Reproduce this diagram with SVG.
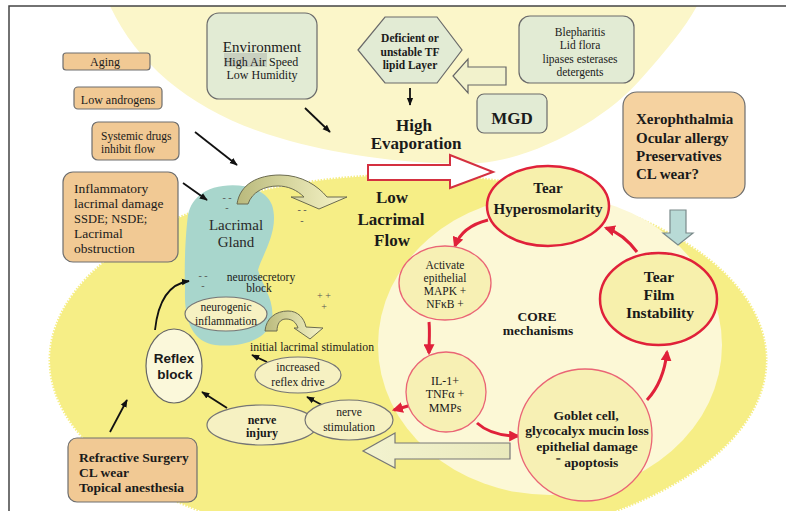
<svg xmlns="http://www.w3.org/2000/svg" width="786" height="511" viewBox="0 0 786 511">
<style>
text{font-family:"Liberation Serif","Times New Roman",serif;fill:#1a1a1a}
.c{text-anchor:middle}
.b{font-weight:bold}
.sans{font-family:"Liberation Sans",Arial,sans-serif}
.tan{fill:#f1c994;stroke:#6e6e6e;stroke-width:1.2}
.grn{fill:#e2ebd4;stroke:#6a6a6a;stroke-width:1.2}
.blk{stroke:#111;stroke-width:1.8;fill:none;marker-end:url(#ab)}
.red{stroke:#e0213a;stroke-width:3;fill:none;marker-end:url(#ar)}
.rr{fill:#f7f0ac;stroke:#e0213a;stroke-width:2.5}
.rl{fill:#f7f0b4;stroke:#ea6575;stroke-width:1.3}
.ye{fill:#f6f1c2;stroke:#757575;stroke-width:1.2}
.mk{font-size:10px;fill:#555}
</style>
<defs>
<marker id="ab" viewBox="0 0 10 10" refX="9" refY="5" markerWidth="8" markerHeight="8" markerUnits="userSpaceOnUse" orient="auto"><path d="M0,1 L10,5 L0,9 z" fill="#111"/></marker>
<marker id="ar" viewBox="0 0 10 10" refX="8" refY="5" markerWidth="11" markerHeight="11" markerUnits="userSpaceOnUse" orient="auto"><path d="M0,0 L10,5 L0,10 z" fill="#e0213a"/></marker>
<linearGradient id="olive" x1="0" y1="0" x2="1" y2="0"><stop offset="0" stop-color="#b9b97c"/><stop offset="0.5" stop-color="#d9d8a2"/><stop offset="1" stop-color="#f6f4c8"/></linearGradient>
<linearGradient id="pale" x1="0" y1="0" x2="1" y2="0"><stop offset="0" stop-color="#f3f3d0"/><stop offset="1" stop-color="#e9e9bc"/></linearGradient>
</defs>

<g id="background">
<rect x="0" y="0" width="786" height="511" fill="#ffffff"/>
<path d="M110,6 C140,70 200,115 280,138 C340,156 420,166 480,163 C540,158 610,115 640,80 C665,52 685,28 697,6 Z" fill="#fbf6c9"/>
<ellipse cx="408" cy="360" rx="358" ry="185" fill="#f6ee86" stroke="#f6ee86" stroke-width="3" stroke-dasharray="1.5 1.5"/>
<ellipse cx="550" cy="345" rx="172" ry="150" fill="#fcf8d6"/>
<path d="M9,511 L9,6 L786,6" fill="none" stroke="#444" stroke-width="1.5"/>
</g>

<g id="lacrimal-gland">
<path d="M200,195 C215,181 262,180 272,205 C280,230 262,255 258,270 C262,285 275,300 272,320 C268,340 240,348 215,345 C192,342 184,320 185,290 C184,260 186,230 188,215 C190,205 195,199 200,195 Z" fill="#a8d6cc"/>
<text class="c" x="236" y="230" font-size="15" style="fill:#2a2a2a">Lacrimal</text>
<text class="c" x="236" y="247" font-size="15" style="fill:#2a2a2a">Gland</text>
<text class="mk c" x="227" y="201">- -</text><text class="mk c" x="227" y="211">-</text>
<text class="mk c" x="302" y="213">- -</text><text class="mk c" x="302" y="224">-</text>
<text class="mk c" x="203" y="279">- -</text><text class="mk c" x="203" y="289">-</text>
<text class="mk c" x="324" y="299">+ +</text><text class="mk c" x="324" y="310">+</text>
<text class="c" x="261" y="281" font-size="11.5">neurosecretory</text>
<text class="c" x="259" y="292" font-size="11.5">block</text>
</g>

<g id="connectors">
<path d="M237,204 C240,184 258,175 280,175 C302,175 318,186 327,197 L347,197 L319,209 L291,197 L304,197 C297,190 288,186 278,186 C264,186 252,192 248,204 Z" fill="url(#olive)" stroke="#6b6b50" stroke-width="1"/>
<path d="M265,331 C266,318 276,311 288,311 C298,311 304,318 306,327 L323,328 L310,339 L294,328 L298,328 C296,322 292,319 286,319 C280,319 277,324 277,331 Z" fill="url(#olive)" stroke="#6b6b50" stroke-width="1"/>
<polygon points="506,67 468,67 468,59 453,76 468,93 468,85 506,85" fill="#f2f2cc" stroke="#666" stroke-width="1.2"/>
<polygon points="368,165 450,165 450,155 493,172 450,188 450,180 368,180" fill="#ffffff" stroke="#d43040" stroke-width="2"/>
<polygon points="510,443 395,443 395,433 363,451 395,468 395,459 510,459" fill="url(#pale)" stroke="#777" stroke-width="1.2"/>
<polygon points="670,210 686,210 686,233 693,233 678,245 663,233 670,233" fill="#b8dad6" stroke="#7a8a8a" stroke-width="1.2"/>
<line class="blk" x1="305" y1="108" x2="330" y2="132"/>
<line class="blk" x1="195" y1="132" x2="237" y2="165"/>
<line class="blk" x1="183" y1="183" x2="207" y2="200"/>
<line class="blk" x1="410" y1="88" x2="410" y2="105"/>
<path class="blk" d="M155,330 C158,302 168,284 189,281"/>
<line class="blk" x1="110" y1="432" x2="127" y2="400"/>
<line class="blk" x1="227" y1="408" x2="202" y2="392"/>
<line class="blk" x1="322" y1="405" x2="307" y2="397"/>
<line class="blk" x1="267" y1="362" x2="252" y2="355"/>
<path class="red" d="M488,220 C472,224 460,232 455,246"/>
<path class="red" d="M429,322 C430,332 429,342 429,353"/>
<path class="red" d="M415,404 L394,410"/>
<path class="red" d="M477,423 C487,432 500,436 518,436"/>
<path class="red" d="M647,400 C660,386 665,370 667,352"/>
<path class="red" d="M637,252 C628,240 618,232 606,228"/>
</g>

<g id="aging"><rect class="tan" x="63" y="53" width="87" height="17" rx="3"/><text class="c" x="105" y="66" font-size="12">Aging</text></g>
<g id="low-androgens"><rect class="tan" x="74" y="87" width="88" height="22" rx="4"/><text class="c" x="118" y="104" font-size="12">Low androgens</text></g>
<g id="systemic-drugs"><rect class="tan" x="92" y="122" width="87" height="38" rx="6"/>
<text x="101" y="140" font-size="11.5">Systemic drugs</text><text x="101" y="153" font-size="11.5">inhibit flow</text></g>
<g id="inflammatory"><rect class="tan" x="63" y="172" width="115" height="90" rx="10"/>
<text x="74" y="193" font-size="13.5">Inflammatory</text>
<text x="74" y="208" font-size="13.5">lacrimal damage</text>
<text x="74" y="223" font-size="12.5">SSDE; NSDE;</text>
<text x="74" y="238" font-size="13.5">Lacrimal</text>
<text x="74" y="253" font-size="13.5">obstruction</text></g>

<g id="environment"><rect class="grn" x="207" y="13" width="110" height="86" rx="12"/>
<rect x="224" y="53" width="43" height="14" fill="#c9d0c0"/>
<text class="c" x="262" y="52" font-size="15">Environment</text>
<text class="c" x="261" y="66" font-size="12">High Air Speed</text>
<text class="c" x="262" y="79" font-size="12">Low Humidity</text></g>

<g id="lipid-layer"><polygon class="grn" points="358,50 385,17 437,17 462,50 437,83 385,83"/>
<text class="c b" x="410" y="42" font-size="11.5">Deficient or</text>
<text class="c b" x="410" y="56" font-size="11.5">unstable TF</text>
<text class="c b" x="410" y="69" font-size="11.5">lipid Layer</text></g>

<g id="blepharitis"><rect class="grn" x="519" y="16" width="115" height="67" rx="11"/>
<text class="c" x="580" y="36" font-size="11.5">Blepharitis</text>
<text class="c" x="580" y="49" font-size="11.5">Lid flora</text>
<text class="c" x="580" y="63" font-size="11.5">lipases esterases</text>
<text class="c" x="580" y="76" font-size="11.5">detergents</text></g>

<g id="mgd"><rect class="grn" x="477" y="94" width="70" height="39" rx="7"/><text class="c b" x="512" y="124" font-size="17">MGD</text></g>

<g id="high-evaporation"><text class="c b" x="414" y="131" font-size="17">High</text><text class="c b" x="416" y="149" font-size="17">Evaporation</text></g>

<g id="low-lacrimal-flow"><text class="c b" x="392" y="203" font-size="17">Low</text><text class="c b" x="391" y="225" font-size="17">Lacrimal</text><text class="c b" x="392" y="246" font-size="17">Flow</text></g>

<g id="xerophthalmia"><rect x="623" y="92" width="122" height="106" rx="14" fill="#f5d2a0" stroke="#6e6e6e" stroke-width="1.2"/>
<text class="b" x="636" y="124" font-size="15">Xerophthalmia</text>
<text class="b" x="636" y="143" font-size="15">Ocular allergy</text>
<text class="b" x="636" y="161" font-size="15">Preservatives</text>
<text class="b" x="636" y="179" font-size="15">CL wear?</text></g>

<g id="tear-hyperosmolarity"><ellipse class="rr" cx="548" cy="206" rx="61" ry="40"/>
<text class="c b" x="548" y="193" font-size="15">Tear</text><text class="c b" x="548" y="213.5" font-size="15">Hyperosmolarity</text></g>

<g id="activate-epithelial"><ellipse class="rl" cx="445" cy="283" rx="46" ry="37"/>
<text class="c" x="445" y="269" font-size="11.5">Activate</text>
<text class="c" x="445" y="282" font-size="11.5">epithelial</text>
<text class="c" x="445" y="295" font-size="11.5">MAPK +</text>
<text class="c" x="445" y="308" font-size="11.5">NFκB +</text></g>

<g id="core"><text class="c b" x="537" y="321" font-size="13.5">CORE</text><text class="c b" x="538" y="335" font-size="13.5">mechanisms</text></g>

<g id="tear-film-instability"><ellipse class="rr" cx="658.5" cy="299" rx="58.5" ry="46"/>
<text class="c b" x="659" y="282" font-size="15.5">Tear</text>
<text class="c b" x="659" y="300" font-size="15.5">Film</text>
<text class="c b" x="660" y="318" font-size="15.5">Instability</text></g>

<g id="il1"><circle class="rl" cx="446" cy="392" r="40"/>
<text class="c" x="445" y="385" font-size="12">IL-1+</text>
<text class="c" x="445" y="398" font-size="12">TNFα +</text>
<text class="c" x="445" y="412" font-size="12">MMPs</text></g>

<g id="goblet"><ellipse class="rl" cx="585" cy="435" rx="67" ry="66"/>
<text class="c b" x="586" y="420" font-size="13.5">Goblet cell,</text>
<text class="c b" x="587" y="435" font-size="13.5">glycocalyx mucin loss</text>
<text class="c b" x="587" y="451" font-size="13.5">epithelial damage</text>
<text class="c b" x="587" y="467" font-size="13.5">⁻ apoptosis</text></g>

<g id="neurogenic-inflammation"><ellipse class="ye" cx="226" cy="314" rx="41" ry="17"/>
<text class="c" x="226" y="311" font-size="11.5">neurogenic</text><text class="c" x="226" y="325" font-size="11.5">inflammation</text></g>

<g id="initial-stimulation"><text class="c" x="312" y="351" font-size="11.7">initial lacrimal stimulation</text></g>

<g id="increased-reflex"><ellipse class="ye" cx="298" cy="375" rx="43" ry="18"/>
<text class="c" x="298" y="371" font-size="11.5">increased</text><text class="c" x="298" y="386" font-size="11.5">reflex drive</text></g>

<g id="reflex-block"><ellipse cx="174" cy="366" rx="28" ry="37" fill="#fbf8da" stroke="#666" stroke-width="1.2"/>
<text class="c b sans" x="174" y="363" font-size="13.5">Reflex</text><text class="c b sans" x="175" y="379" font-size="13.5">block</text></g>

<g id="nerve-injury"><ellipse class="ye" cx="262" cy="425" rx="55" ry="20"/>
<text class="c b" x="262" y="424" font-size="12">nerve</text><text class="c b" x="262" y="437" font-size="12">injury</text></g>

<g id="nerve-stimulation"><ellipse class="ye" cx="349" cy="420" rx="44" ry="20"/>
<text class="c" x="349" y="416" font-size="11.5">nerve</text><text class="c" x="349" y="431" font-size="11.5">stimulation</text></g>

<g id="refractive-surgery"><rect class="tan" x="68" y="438" width="129" height="64" rx="9"/>
<text class="b" x="79" y="462" font-size="13.5">Refractive Surgery</text>
<text class="b" x="79" y="477" font-size="13.5">CL wear</text>
<text class="b" x="79" y="492" font-size="13.5">Topical anesthesia</text></g>
</svg>
